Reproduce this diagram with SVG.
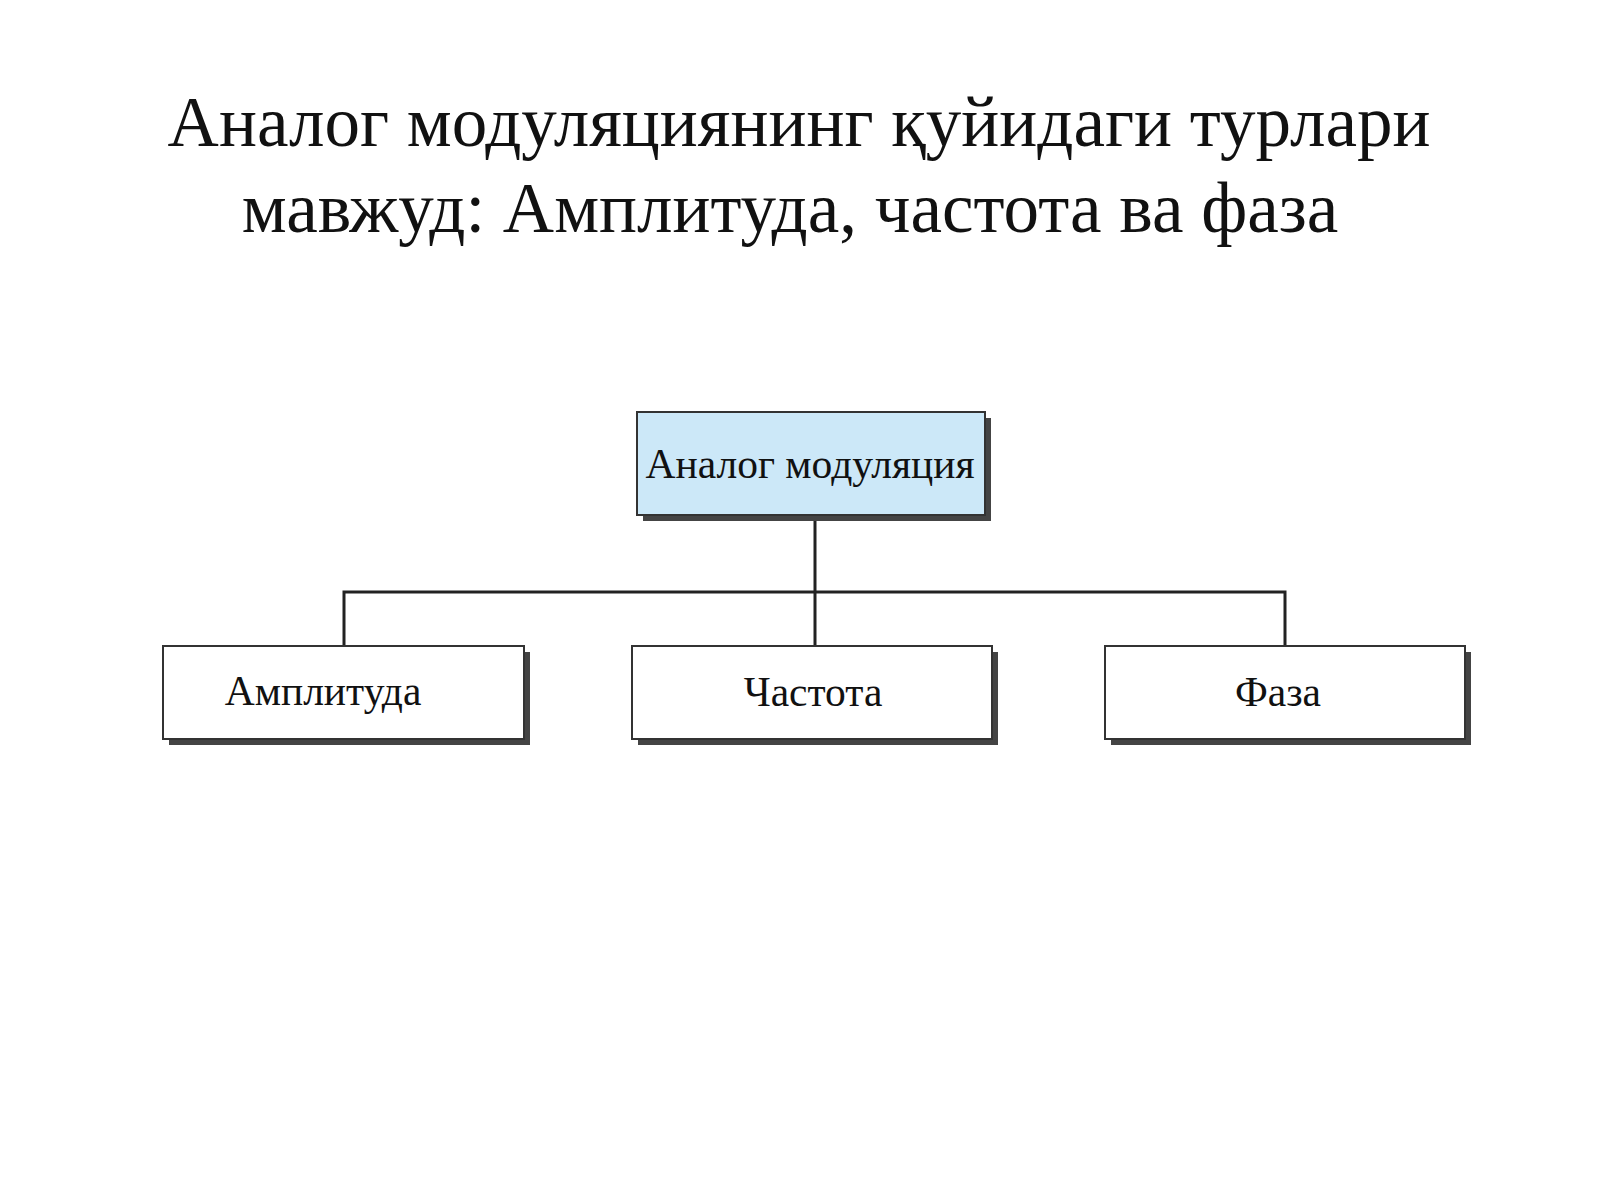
<svg xmlns="http://www.w3.org/2000/svg" width="1600" height="1200" viewBox="0 0 1600 1200">
<style>
.t{font-family:"Liberation Serif",serif;fill:#111}
.box{stroke:#333;stroke-width:2}
.sh{fill:#444}
.ln{stroke:#222;stroke-width:3;fill:none}
</style>
<rect width="1600" height="1200" fill="#fff"/>
<text class="t" x="799" y="146" font-size="71" text-anchor="middle">Аналог модуляциянинг қуйидаги турлари</text>
<text class="t" x="790" y="232" font-size="71" text-anchor="middle">мавжуд: Амплитуда, частота ва фаза</text>
<g id="connectors">
<path class="ln" d="M815 515V646M344 646V592H1285V646"/>
</g>
<g id="n-root">
<rect class="sh" x="643" y="418" width="348" height="103"/>
<rect class="box" x="637" y="412" width="348" height="103" fill="#cce8f8"/>
<text class="t" x="810" y="478" font-size="41.5" text-anchor="middle">Аналог модуляция</text>
</g>
<g id="n-amp">
<rect class="sh" x="169" y="652" width="361" height="93"/>
<rect class="box" x="163" y="646" width="361" height="93" fill="#fff"/>
<text class="t" x="323" y="705" font-size="41.5" text-anchor="middle">Амплитуда</text>
</g>
<g id="n-freq">
<rect class="sh" x="638" y="652" width="360" height="93"/>
<rect class="box" x="632" y="646" width="360" height="93" fill="#fff"/>
<text class="t" x="813" y="706" font-size="41.5" text-anchor="middle">Частота</text>
</g>
<g id="n-phase">
<rect class="sh" x="1111" y="652" width="360" height="93"/>
<rect class="box" x="1105" y="646" width="360" height="93" fill="#fff"/>
<text class="t" x="1278" y="706" font-size="41.5" text-anchor="middle">Фаза</text>
</g>
</svg>
